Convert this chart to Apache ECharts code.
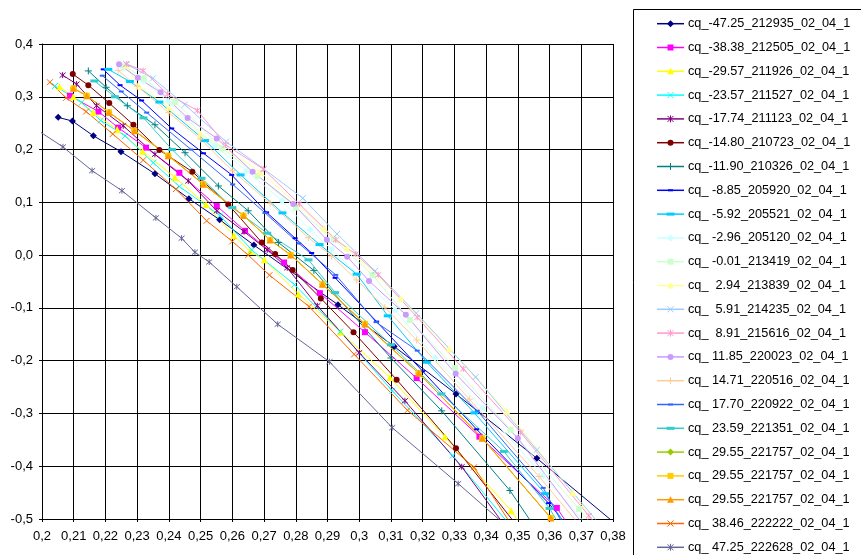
<!DOCTYPE html>
<html>
<head>
<meta charset="utf-8">
<script src="https://cdn.jsdelivr.net/npm/echarts@6/dist/echarts.min.js"></script>
<style>
  html, body { margin: 0; padding: 0; background: #fff; }
  #chart { width: 861px; height: 555px; }
</style>
</head>
<body>
<div id="chart"></div>
<script>
// Legend labels, one per measurement run
const seriesLabels = [
  'cq_-47.25_212935_02_04_1', 'cq_-38.38_212505_02_04_1', 'cq_-29.57_211926_02_04_1',
  'cq_-23.57_211527_02_04_1', 'cq_-17.74_211123_02_04_1', 'cq_-14.80_210723_02_04_1',
  'cq_-11.90_210326_02_04_1', 'cq_ -8.85_205920_02_04_1', 'cq_ -5.92_205521_02_04_1',
  'cq_ -2.96_205120_02_04_1', 'cq_ -0.01_213419_02_04_1', 'cq_  2.94_213839_02_04_1',
  'cq_  5.91_214235_02_04_1', 'cq_  8.91_215616_02_04_1', 'cq_ 11.85_220023_02_04_1',
  'cq_ 14.71_220516_02_04_1', 'cq_ 17.70_220922_02_04_1', 'cq_ 23.59_221351_02_04_1',
  'cq_ 29.55_221757_02_04_1', 'cq_ 29.55_221757_02_04_1', 'cq_ 29.55_221757_02_04_1',
  'cq_ 38.46_222222_02_04_1', 'cq_ 47.25_222628_02_04_1'
];

// Axis ticks
const xTicks = { min: 0.2, max: 0.38, step: 0.01 };
const yTicks = { min: -0.5, max: 0.4, step: 0.1 };

// [x, y] points of each run
const runM4725 = [[0.2051,0.261],[0.2096,0.254],[0.2162,0.226],[0.2249,0.196],[0.2356,0.154],[0.2463,0.107],[0.2560,0.067],[0.2668,0.019],[0.2933,-0.094],[0.3110,-0.173],[0.3305,-0.263],[0.3560,-0.385],[0.3870,-0.540]];
const runM3838 = [[0.2088,0.302],[0.2178,0.272],[0.2240,0.2415],[0.2328,0.2036],[0.2433,0.156],[0.2551,0.093],[0.2640,0.046],[0.2763,-0.014],[0.2876,-0.072],[0.3018,-0.146],[0.3181,-0.233],[0.3379,-0.344],[0.3623,-0.479],[0.3680,-0.530]];
const runM2957 = [[0.2055,0.319],[0.2099,0.300],[0.2162,0.270],[0.2237,0.238],[0.2317,0.197],[0.2419,0.147],[0.2517,0.096],[0.2605,0.037],[0.2656,0.007],[0.2701,-0.009],[0.2808,-0.0735],[0.2942,-0.146],[0.3097,-0.232],[0.3270,-0.344],[0.3479,-0.4845],[0.3530,-0.530]];
const runM2357 = [[0.2041,0.3205],[0.2125,0.289],[0.2185,0.255],[0.2262,0.226],[0.2351,0.175],[0.2433,0.130],[0.2561,0.075],[0.2661,0.010],[0.2796,-0.056],[0.2940,-0.145],[0.3104,-0.257],[0.3295,-0.380],[0.3500,-0.530]];
const runM1774 = [[0.2065,0.341],[0.2109,0.324],[0.2172,0.283],[0.2256,0.245],[0.2356,0.191],[0.2461,0.1405],[0.2551,0.084],[0.2637,0.0445],[0.2710,0.010],[0.2773,-0.024],[0.2868,-0.096],[0.3000,-0.185],[0.3144,-0.276],[0.3323,-0.401],[0.3480,-0.530]];
const runM1480 = [[0.2097,0.343],[0.2146,0.322],[0.2212,0.288],[0.2288,0.247],[0.2370,0.199],[0.2474,0.158],[0.2587,0.096],[0.2693,0.024],[0.2735,0.002],[0.2790,-0.028],[0.2879,-0.082],[0.2982,-0.146],[0.3118,-0.236],[0.3305,-0.366],[0.3520,-0.530]];
const runM1190 = [[0.2146,0.349],[0.2202,0.318],[0.2269,0.283],[0.2356,0.247],[0.2451,0.194],[0.2556,0.131],[0.2650,0.084],[0.2745,0.024],[0.2857,-0.029],[0.3100,-0.195],[0.3260,-0.295],[0.3475,-0.446],[0.3570,-0.530]];
const runM0885 = [[0.2193,0.352],[0.2246,0.322],[0.2314,0.293],[0.2409,0.240],[0.2509,0.193],[0.2598,0.152],[0.2708,0.081],[0.2798,0.032],[0.2850,0.004],[0.2924,-0.043],[0.3055,-0.126],[0.3200,-0.220],[0.3370,-0.330],[0.3597,-0.470],[0.3680,-0.530]];
const runM0592 = [[0.2209,0.352],[0.2277,0.329],[0.2370,0.290],[0.2514,0.217],[0.2626,0.152],[0.2758,0.080],[0.2875,0.020],[0.2992,-0.036],[0.3090,-0.115],[0.3213,-0.203],[0.3363,-0.299],[0.3586,-0.452],[0.3670,-0.530]];
const runM0296 = [[0.2255,0.355],[0.2320,0.330],[0.2400,0.290],[0.2545,0.207],[0.2645,0.160],[0.2756,0.103],[0.2845,0.048],[0.2913,0.011],[0.3113,-0.104],[0.3239,-0.195],[0.3389,-0.290],[0.3580,-0.418],[0.3760,-0.540]];
const runM0001 = [[0.2260,0.358],[0.2320,0.335],[0.2420,0.290],[0.2568,0.2025],[0.2680,0.150],[0.2800,0.090],[0.2920,0.030],[0.3042,-0.0375],[0.3160,-0.123],[0.3302,-0.214],[0.3477,-0.331],[0.3693,-0.481],[0.3760,-0.530]];
const runP0294 = [[0.2265,0.360],[0.2304,0.3205],[0.2400,0.280],[0.2500,0.230],[0.2687,0.158],[0.2889,0.051],[0.2961,0.014],[0.3131,-0.082],[0.3283,-0.178],[0.3465,-0.2955],[0.3673,-0.450],[0.3770,-0.530]];
const runP0591 = [[0.2265,0.362],[0.2350,0.335],[0.2450,0.285],[0.2580,0.215],[0.2700,0.163],[0.2822,0.108],[0.2930,0.040],[0.3050,-0.030],[0.3180,-0.110],[0.3367,-0.231],[0.3560,-0.369],[0.3800,-0.540]];
const runP0891 = [[0.2267,0.362],[0.2319,0.3495],[0.2396,0.305],[0.2490,0.274],[0.2579,0.209],[0.2698,0.163],[0.2811,0.097],[0.2926,0.029],[0.2989,0.002],[0.3060,-0.0375],[0.3183,-0.118],[0.3328,-0.2155],[0.3509,-0.336],[0.3724,-0.494],[0.3770,-0.530]];
const runP1185 = [[0.2243,0.3615],[0.2302,0.336],[0.2374,0.3085],[0.2459,0.260],[0.2551,0.221],[0.2664,0.158],[0.2792,0.097],[0.2898,0.029],[0.2962,-0.003],[0.3031,-0.049],[0.3147,-0.113],[0.3304,-0.225],[0.3500,-0.347],[0.3730,-0.530]];
const runP1471 = [[0.2240,0.350],[0.2300,0.320],[0.2400,0.270],[0.2500,0.220],[0.2600,0.160],[0.2719,0.098],[0.2840,0.033],[0.2913,-0.0015],[0.2992,-0.047],[0.3081,-0.099],[0.3181,-0.161],[0.3347,-0.273],[0.3567,-0.4195],[0.3720,-0.530]];
const runP1770 = [[0.2190,0.340],[0.2250,0.310],[0.2330,0.270],[0.2470,0.200],[0.2601,0.134],[0.2703,0.080],[0.2810,0.022],[0.2926,-0.0375],[0.3053,-0.127],[0.3183,-0.181],[0.3372,-0.295],[0.3580,-0.441],[0.3660,-0.530]];
const runP2359 = [[0.2165,0.330],[0.2230,0.300],[0.2320,0.260],[0.2410,0.200],[0.2503,0.1456],[0.2600,0.090],[0.2710,0.0415],[0.2840,-0.009],[0.2924,-0.071],[0.3100,-0.170],[0.3259,-0.263],[0.3456,-0.372],[0.3600,-0.480],[0.3650,-0.530]];
const runP2955 = [[0.2099,0.316],[0.2141,0.302],[0.2211,0.2706],[0.2291,0.2358],[0.2398,0.1884],[0.2509,0.1343],[0.2635,0.075],[0.2719,0.0288],[0.2784,0.0004],[0.2884,-0.0551],[0.3018,-0.1303],[0.3187,-0.2237],[0.3388,-0.3468],[0.3604,-0.498],[0.3640,-0.530]];
const runP3846 = [[0.2025,0.3275],[0.2076,0.298],[0.2139,0.272],[0.2223,0.2295],[0.2319,0.180],[0.2422,0.125],[0.2519,0.065],[0.2600,0.026],[0.2650,0.000],[0.2717,-0.038],[0.2842,-0.0975],[0.2984,-0.188],[0.3152,-0.294],[0.3362,-0.402],[0.3500,-0.530]];
const runP4725 = [[0.1975,0.241],[0.2066,0.205],[0.2158,0.160],[0.2252,0.122],[0.2359,0.0705],[0.2440,0.032],[0.2482,0.0055],[0.2527,-0.013],[0.2614,-0.060],[0.2743,-0.131],[0.2906,-0.202],[0.3104,-0.327],[0.3312,-0.433],[0.3515,-0.540]];

const runs = [runM4725, runM3838, runM2957, runM2357, runM1774, runM1480, runM1190, runM0885,
  runM0592, runM0296, runM0001, runP0294, runP0591, runP0891, runP1185, runP1471, runP1770,
  runP2359, runP2955, runP2955, runP2955, runP3846, runP4725];

const palette = ['#000080', '#FF00FF', '#FFFF00', '#00FFFF', '#800080', '#800000', '#008080',
  '#0000FF', '#00CCFF', '#CCFFFF', '#CCFFCC', '#FFFF99', '#99CCFF', '#FF99CC', '#CC99FF',
  '#FFCC99', '#3366FF', '#33CCCC', '#99CC00', '#FFCC00', '#FF9900', '#FF6600', '#666699'];

// Marker shapes, cycling like a spreadsheet's default line markers
const CROSS = 'path://M0,0L10,10M10,0L0,10';
const STAR = 'path://M0,0L10,10M10,0L0,10M5,-1L5,11';
const PLUS = 'path://M5,0L5,10M0,5L10,5';
const markerCycle = [
  { kind: 'diamond', symbol: 'diamond', size: 7 },
  { kind: 'square', symbol: 'rect', size: 6 },
  { kind: 'triangle', symbol: 'triangle', size: 7 },
  { kind: 'cross', symbol: CROSS, size: 6, stroke: true },
  { kind: 'star', symbol: STAR, size: 6, stroke: true },
  { kind: 'circle', symbol: 'circle', size: 6 },
  { kind: 'plus', symbol: PLUS, size: 7, stroke: true },
  { kind: 'dash', symbol: 'rect', size: [5, 2] },
  { kind: 'longdash', symbol: 'rect', size: [8, 3] }
];

const FONT = '"Liberation Sans", Arial, sans-serif';
function fmtX(v) { return String(parseFloat(v.toFixed(2))).replace('.', ','); }
function fmtY(v) { return v.toFixed(1).replace('.', ','); }

const series = runs.map((pts, i) => {
  const m = markerCycle[i % markerCycle.length];
  return {
    name: seriesLabels[i],
    type: 'line',
    data: pts,
    clip: true,
    symbol: m.symbol,
    symbolSize: m.size,
    showAllSymbol: true,
    lineStyle: { color: palette[i], width: 1 },
    itemStyle: { color: palette[i], borderColor: palette[i], borderWidth: m.stroke ? 1 : 0 },
    emphasis: { disabled: true },
    animation: false
  };
});

// Legend key marker drawn as a small graphic centred on (cx, cy)
function strokeLines(segs, color) {
  return {
    type: 'group',
    children: segs.map(s => ({
      type: 'line', silent: true,
      shape: { x1: s[0], y1: s[1], x2: s[2], y2: s[3] },
      style: { stroke: color, lineWidth: 1 }
    }))
  };
}
function keyMarker(kind, cx, cy, color) {
  switch (kind) {
    case 'diamond':
      return { type: 'polygon', shape: { points: [[cx, cy - 3.5], [cx + 3.5, cy], [cx, cy + 3.5], [cx - 3.5, cy]] }, style: { fill: color } };
    case 'square':
      return { type: 'rect', shape: { x: cx - 3, y: cy - 3, width: 6, height: 6 }, style: { fill: color } };
    case 'triangle':
      return { type: 'polygon', shape: { points: [[cx, cy - 3.5], [cx + 3.5, cy + 3], [cx - 3.5, cy + 3]] }, style: { fill: color } };
    case 'cross':
      return strokeLines([[cx - 3, cy - 3, cx + 3, cy + 3], [cx + 3, cy - 3, cx - 3, cy + 3]], color);
    case 'star':
      return strokeLines([[cx - 3, cy - 3, cx + 3, cy + 3], [cx + 3, cy - 3, cx - 3, cy + 3], [cx, cy - 3.5, cx, cy + 3.5]], color);
    case 'circle':
      return { type: 'circle', shape: { cx: cx, cy: cy, r: 3 }, style: { fill: color } };
    case 'plus':
      return strokeLines([[cx, cy - 3.5, cx, cy + 3.5], [cx - 3.5, cy, cx + 3.5, cy]], color);
    case 'dash':
      return { type: 'rect', shape: { x: cx - 2.5, y: cy - 1, width: 5, height: 2 }, style: { fill: color } };
    default:
      return { type: 'rect', shape: { x: cx - 4, y: cy - 1.5, width: 8, height: 3 }, style: { fill: color } };
  }
}

// Legend panel on the right
const legendBox = { left: 633, top: 9, firstRow: 23.7, rowStep: 23.8, keyX0: 657, keyX1: 684, textX: 688 };
const legendGraphics = [{
  type: 'rect', silent: true,
  shape: { x: legendBox.left + 0.5, y: legendBox.top + 0.5, width: 260, height: 600 },
  style: { fill: '#fff', stroke: '#000', lineWidth: 1 }
}];
seriesLabels.forEach((label, i) => {
  const cy = legendBox.firstRow + legendBox.rowStep * i;
  const color = palette[i];
  const kind = markerCycle[i % markerCycle.length].kind;
  legendGraphics.push({
    type: 'line', silent: true,
    shape: { x1: legendBox.keyX0, y1: cy, x2: legendBox.keyX1, y2: cy },
    style: { stroke: color, lineWidth: 1.5 }
  });
  legendGraphics.push(Object.assign({ silent: true }, keyMarker(kind, (legendBox.keyX0 + legendBox.keyX1) / 2, cy, color)));
  legendGraphics.push({
    type: 'text', silent: true,
    style: { text: label, x: legendBox.textX, y: cy, verticalAlign: 'middle', align: 'left', font: `12.7px ${FONT}`, fill: '#000' }
  });
});

const chart = echarts.init(document.getElementById('chart'), null, { renderer: 'canvas' });
chart.setOption({
  backgroundColor: '#fff',
  animation: false,
  grid: { left: 42, right: 248, top: 44, bottom: 36, containLabel: false },
  xAxis: {
    type: 'value', min: xTicks.min, max: xTicks.max, interval: xTicks.step,
    axisLine: { show: true, onZero: false, lineStyle: { color: '#000', width: 1 } },
    axisTick: { show: true, length: 3, lineStyle: { color: '#000' } },
    axisLabel: { formatter: fmtX, color: '#000', fontFamily: FONT, fontSize: 13, margin: 11, showMinLabel: true, showMaxLabel: true },
    splitLine: { show: true, lineStyle: { color: '#000', width: 1 } }
  },
  yAxis: {
    type: 'value', min: yTicks.min, max: yTicks.max, interval: yTicks.step,
    axisLine: { show: true, onZero: false, lineStyle: { color: '#000', width: 1 } },
    axisTick: { show: true, length: 3, lineStyle: { color: '#000' } },
    axisLabel: { formatter: fmtY, color: '#000', fontFamily: FONT, fontSize: 13, margin: 9 },
    splitLine: { show: true, lineStyle: { color: '#000', width: 1 } }
  },
  graphic: legendGraphics,
  series: series
});
</script>
</body>
</html>
